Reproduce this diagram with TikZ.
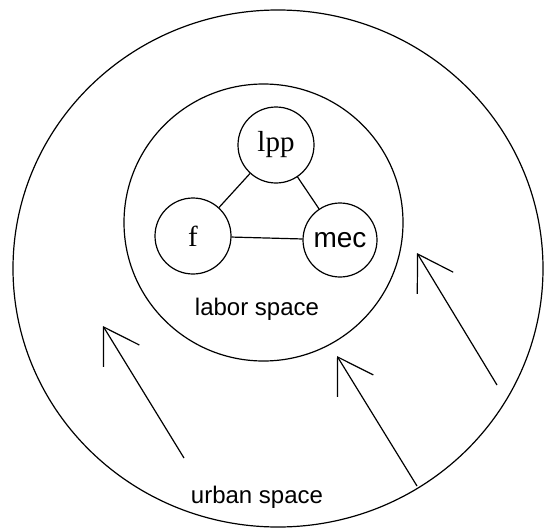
\documentclass[tikz,border=0pt]{standalone}
\usepackage{fontspec}
\setmainfont{Liberation Sans}
\newfontfamily\serifface{Liberation Serif}
\usetikzlibrary{arrows.meta,shapes.geometric}
\begin{document}
\begin{tikzpicture}[x=1pt,y=-1pt,
  ring/.style={draw, ellipse, line width=1.2pt, inner sep=0pt},
  agent/.style={draw, circle, line width=1.2pt, minimum size=76pt, inner sep=0pt},
  link/.style={line width=1.2pt},
  flow/.style={line width=1.2pt, -{Straight Barb[length=34pt,width=42pt,line width=1.2pt]}},
  lbl/.style={font=\fontsize{24}{28}\selectfont}]
\useasboundingbox (0,0) rectangle (544,528);
\node[ring, minimum width=530pt, minimum height=517pt] (urban) at (278,268.5) {};
\node[ring, minimum width=279pt, minimum height=277pt] (labor) at (263.5,222.5) {};
\node[agent, font=\serifface\fontsize{29}{32}\selectfont] (lpp) at (276,145) {lpp};
\node[agent, font=\serifface\fontsize{29}{32}\selectfont] (f) at (193,236) {f};
\node[agent, minimum size=74pt, font=\fontsize{28}{32}\selectfont] (mec) at (340,240) {mec};
\draw[link] (lpp) -- (f);
\draw[link] (lpp) -- (mec);
\draw[link] (f) -- (mec);
\node[lbl] (laborlbl) at (257,309) {labor space};
\node[lbl] (urbanlbl) at (257,497) {urban space};
\coordinate (t1) at (184,458); \coordinate (h1) at (103,326);
\coordinate (t2) at (417,486); \coordinate (h2) at (337,356);
\coordinate (t3) at (497,385); \coordinate (h3) at (417,253);
\draw[flow] (t1) -- (h1);
\draw[flow] (t2) -- (h2);
\draw[flow] (t3) -- (h3);
\end{tikzpicture}
\end{document}
